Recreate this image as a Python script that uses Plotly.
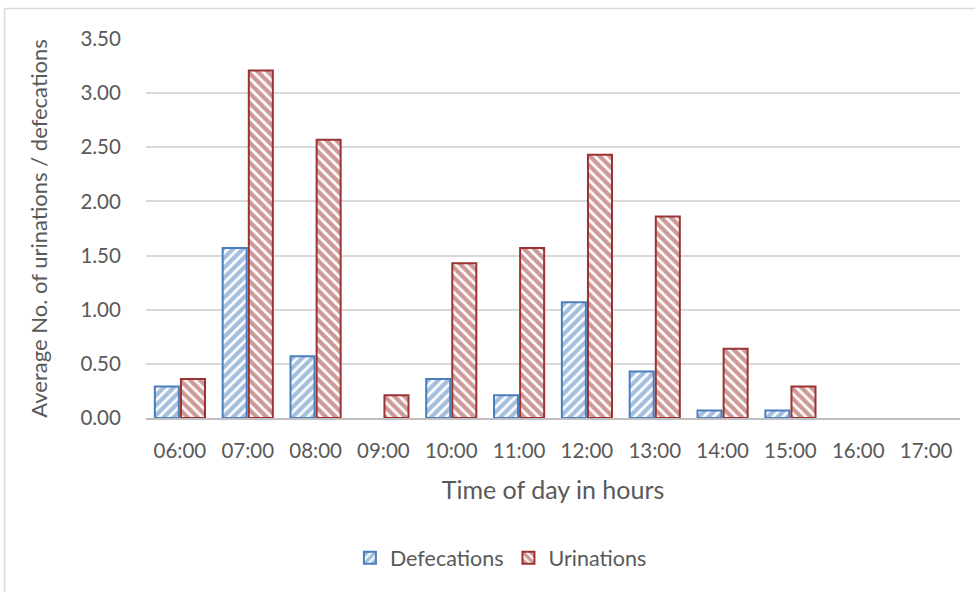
import plotly.graph_objects as go

hours = ["06:00", "07:00", "08:00", "09:00", "10:00", "11:00",
         "12:00", "13:00", "14:00", "15:00", "16:00", "17:00"]
defecations = [0.29, 1.57, 0.57, 0.0, 0.36, 0.21, 1.07, 0.43, 0.07, 0.07, 0.0, 0.0]
urinations = [0.36, 3.21, 2.57, 0.21, 1.43, 1.57, 2.43, 1.86, 0.64, 0.29, 0.0, 0.0]

BLUE = "#4A7EBD"
RED = "#9A3331"
FONT = "Lato, Open Sans, sans-serif"
TXT = "#595959"


def nz(vals):
    # zero-height bars are not drawn in the original
    return [v if v > 0 else None for v in vals]


fig = go.Figure()
fig.add_trace(go.Bar(
    x=hours, y=nz(defecations), name="Defecations",
    marker=dict(color="white", line=dict(color=BLUE, width=2),
                pattern=dict(shape="/", fgcolor=BLUE, bgcolor="white",
                             size=7, solidity=0.62, fillmode="overlay")),
))
fig.add_trace(go.Bar(
    x=hours, y=nz(urinations), name="Urinations",
    marker=dict(color="white", line=dict(color=RED, width=2),
                pattern=dict(shape="\\", fgcolor=RED, bgcolor="white",
                             size=7, solidity=0.62, fillmode="overlay")),
))

fig.update_layout(
    width=975, height=592,
    margin=dict(l=146, r=15, t=39, b=174),
    paper_bgcolor="white", plot_bgcolor="white",
    barmode="group", bargap=0.23, bargroupgap=0.08,
    font=dict(family=FONT, color=TXT, size=20.5),
    showlegend=True,
    legend=dict(orientation="h", x=0.436, xanchor="center", y=-0.369, yanchor="middle",
                font=dict(size=21.5, color=TXT),
                traceorder="normal"),
    xaxis=dict(
        showgrid=False, showline=True, linecolor="#BFBFBF", linewidth=2,
        ticks="outside", ticklen=13, tickcolor="rgba(0,0,0,0)",
        tickfont=dict(size=20.5, color=TXT),
        title=dict(text="Time of day in hours", font=dict(size=25, color=TXT), standoff=21),
    ),
    yaxis=dict(
        range=[0, 3.5], dtick=0.5, tickformat=".2f",
        showgrid=True, gridcolor="#D9D9D9", gridwidth=1.5,
        zeroline=False, showline=False,
        ticks="outside", ticklen=20, tickcolor="rgba(0,0,0,0)",
        tickfont=dict(size=20.5, color=TXT),
        title=dict(text="Average No. of urinations / defecations",
                   font=dict(size=22, color=TXT), standoff=26),
    ),
)

# outer chart border (top and left edges visible)
fig.add_shape(type="line", xref="paper", yref="paper",
              x0=(4.5 - 146) / 814, x1=(975 - 146) / 814,
              y0=(418 - 8.5) / 379, y1=(418 - 8.5) / 379,
              line=dict(color="#D9D9D9", width=1.5))
fig.add_shape(type="line", xref="paper", yref="paper",
              x0=(4.5 - 146) / 814, x1=(4.5 - 146) / 814,
              y0=(418 - 8.5) / 379, y1=(418 - 600) / 379,
              line=dict(color="#D9D9D9", width=1.5))

fig.write_html("out.html")
